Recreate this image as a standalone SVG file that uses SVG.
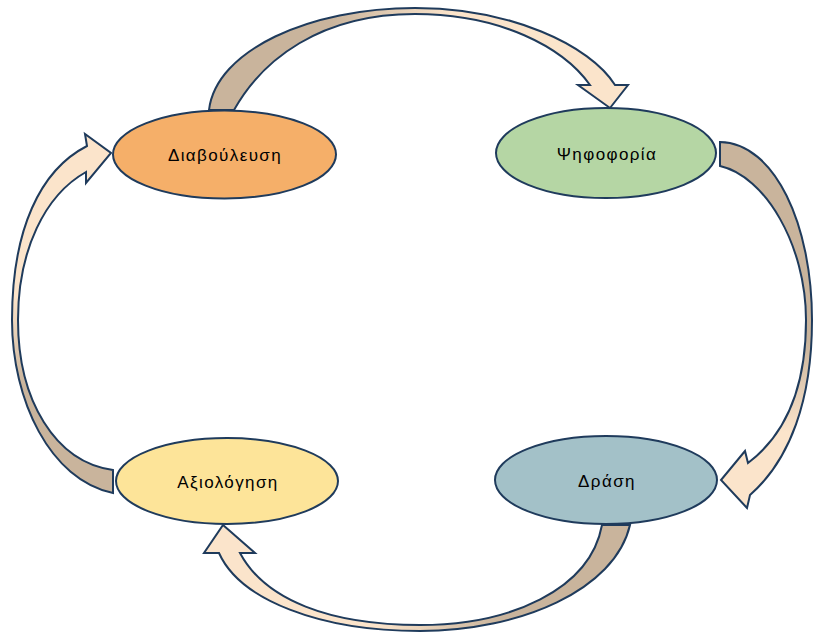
<svg xmlns="http://www.w3.org/2000/svg" width="815" height="633" viewBox="0 0 815 633">
  <style>
    .node { stroke: #1f3b5c; stroke-width: 2; }
    .arrow { stroke: #1f3b5c; stroke-width: 2; stroke-linejoin: miter; }
    .label { font-family: "Liberation Sans", Arial, sans-serif; font-size: 17px; letter-spacing: 1.4px; fill: #000; text-anchor: middle; }
  </style>
  <defs>
    <linearGradient id="gTop" gradientUnits="userSpaceOnUse" x1="209" y1="0" x2="615" y2="0">
      <stop offset="0" stop-color="#c9b49c"/>
      <stop offset="0.3" stop-color="#c9b49c"/>
      <stop offset="0.6" stop-color="#fbe4cb"/>
      <stop offset="1" stop-color="#fbe4cb"/>
    </linearGradient>
    <linearGradient id="gRight" gradientUnits="userSpaceOnUse" x1="0" y1="142" x2="0" y2="505">
      <stop offset="0" stop-color="#c9b49c"/>
      <stop offset="0.55" stop-color="#c9b49c"/>
      <stop offset="0.8" stop-color="#fbe4cb"/>
      <stop offset="1" stop-color="#fbe4cb"/>
    </linearGradient>
    <linearGradient id="gBottom" gradientUnits="userSpaceOnUse" x1="630" y1="0" x2="204" y2="0">
      <stop offset="0" stop-color="#c9b49c"/>
      <stop offset="0.3" stop-color="#c9b49c"/>
      <stop offset="0.6" stop-color="#fbe4cb"/>
      <stop offset="1" stop-color="#fbe4cb"/>
    </linearGradient>
    <linearGradient id="gLeft" gradientUnits="userSpaceOnUse" x1="0" y1="493" x2="0" y2="134">
      <stop offset="0" stop-color="#c9b49c"/>
      <stop offset="0.3" stop-color="#c9b49c"/>
      <stop offset="0.55" stop-color="#fbe4cb"/>
      <stop offset="1" stop-color="#fbe4cb"/>
    </linearGradient>
  </defs>

  <g id="connectors">
    <path id="arrow-top" class="arrow" fill="url(#gTop)" d="M209,110 C216,50 310,8 415,8 C510,8 590,45 615,85 L628,85 L610,108 L578,85 L590,85 C563,47 500,14 415,14 C320,14 262,60 234,110 Z"/>
    <path id="arrow-right" class="arrow" fill="url(#gRight)" d="M720,142 C775,143 812,225 812,320 C812,400 790,460 750,495 L747,508 L721,480 L745,451 L748,463 C785,435 806,390 806,320 C806,245 765,176 720,166 Z"/>
    <path id="arrow-bottom" class="arrow" fill="url(#gBottom)" d="M630,525 C615,590 520,631 420,631 C320,631 240,600 219,553 L204,553 L223,525 L255,553 L240,553 C265,600 330,625 420,625 C510,625 590,590 602,525 Z"/>
    <path id="arrow-left" class="arrow" fill="url(#gLeft)" d="M113,493 C50,480 12,400 12,320 C12,230 40,170 87,146 L85,134 L111,153 L86,183 L86,172 C45,195 18,250 18,320 C18,400 55,462 113,470 Z"/>
  </g>

  <g id="node-diavouleusi">
    <ellipse class="node" cx="224.5" cy="154.5" rx="111.5" ry="44" fill="#f5af69"/>
    <text class="label" x="225" y="161">Διαβούλευση</text>
  </g>
  <g id="node-psifoforia">
    <ellipse class="node" cx="606" cy="153" rx="110" ry="45" fill="#b5d6a4"/>
    <text class="label" x="607" y="160">Ψηφοφορία</text>
  </g>
  <g id="node-drasi">
    <ellipse class="node" cx="606" cy="480" rx="111" ry="44" fill="#a3c1c8"/>
    <text class="label" x="607" y="487">Δράση</text>
  </g>
  <g id="node-axiologisi">
    <ellipse class="node" cx="227" cy="481" rx="111" ry="43" fill="#fde499"/>
    <text class="label" x="228" y="488">Αξιολόγηση</text>
  </g>
</svg>
